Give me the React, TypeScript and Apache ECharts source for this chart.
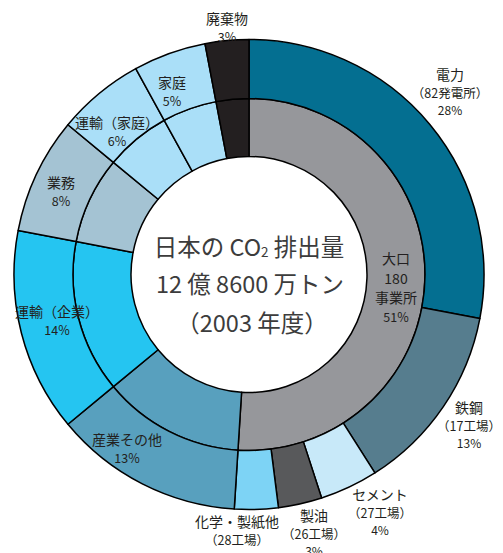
import React, { useEffect, useRef } from "react";
import * as echarts from "echarts";

// ---- data ----
const outerNames = ["電力", "鉄鋼", "セメント", "製油", "化学・製紙他", "産業その他", "運輸（企業）", "業務", "運輸（家庭）", "家庭", "廃棄物"];
const outerSubs = ["（82発電所）", "（17工場）", "（27工場）", "（26工場）", "（28工場）", "", "", "", "", "", ""];
const outerValues = [28, 13, 4, 3, 3, 13, 14, 8, 6, 5, 3];
const outerColors = ["#046F91", "#567D8E", "#C8E9F9", "#58595B", "#7DD3F5", "#58A0BE", "#25C5F1", "#A4C3D3", "#AADFF8", "#AADFF8", "#231F20"];

const innerNames = ["大口", "産業その他", "運輸（企業）", "業務", "運輸（家庭）", "家庭", "廃棄物"];
const innerValues = [51, 13, 14, 8, 6, 5, 3];
const innerColors = ["#96979B", "#58A0BE", "#25C5F1", "#A4C3D3", "#AADFF8", "#AADFF8", "#231F20"];
const innerLabelLines = ["大口", "180", "事業所"];

const centerLines = ["12 億 8600 万トン", "（2003 年度）"];

// label anchor (center x, first line center y) for each outer item
const outerLabelPos: [number, number][] = [
  [450, 74], [469, 407], [380, 494], [314, 515], [237, 521],
  [127, 439], [57, 311], [61, 182], [117, 122], [172, 82], [227, 18],
];
const innerLabelPos: [number, number] = [396, 258];

const FONT = '"Noto Sans CJK JP", "Noto Sans", sans-serif';
const INK = "#231F20";
const CENTER_INK = "#3C3C3C";

export default function App() {
  const ref = useRef<HTMLDivElement>(null);
  useEffect(() => {
    if (!ref.current) return;
    const chart = echarts.init(ref.current, null, { renderer: "svg" });
    const cx = 249, cy = 274.5;

    const texts: any[] = [];
    const addText = (t: string, x: number, y: number, size: number, color = INK) => {
      texts.push({
        type: "text",
        x, y,
        silent: true,
        z: 100,
        style: { text: t, fontSize: size, fontFamily: FONT, fill: color, align: "center", verticalAlign: "middle" },
      });
    };

    outerNames.forEach((n, i) => {
      const [x, y] = outerLabelPos[i];
      addText(n, x, y, 14);
      let yy = y;
      if (outerSubs[i]) {
        yy += 18.2;
        addText(outerSubs[i], x, yy, 12.5);
        yy += 17;
        addText(outerValues[i] + "%", x, yy, 12);
      } else {
        yy += 18;
        addText(outerValues[i] + "%", x, yy, 12.5);
      }
    });
    innerLabelLines.forEach((l, k) => addText(l, innerLabelPos[0], innerLabelPos[1] + k * 19.5, 14));
    addText(innerValues[0] + "%", innerLabelPos[0], innerLabelPos[1] + 3 * 19.5, 12.5);

    // center title
    texts.push({
      type: "text",
      x: 249, y: 244,
      silent: true,
      z: 100,
      style: {
        text: "{a|日本の CO}{s|2}{a| 排出量}",
        align: "center", verticalAlign: "middle",
        rich: {
          a: { fontSize: 23.5, fontFamily: FONT, fill: CENTER_INK, verticalAlign: "bottom", lineHeight: 28 },
          s: { fontSize: 13.5, fontFamily: FONT, fill: CENTER_INK, verticalAlign: "bottom", lineHeight: 24 },
        },
      },
    });
    addText(centerLines[0], 250, 283, 23.5, CENTER_INK);
    addText(centerLines[1], 252, 321.5, 23.5, CENTER_INK);

    chart.setOption({
      animation: false,
      backgroundColor: "#ffffff",
      series: [
        {
          type: "pie",
          center: [cx, cy],
          radius: [118, 176],
          startAngle: 90,
          clockwise: true,
          label: { show: false },
          labelLine: { show: false },
          silent: true,
          itemStyle: { borderColor: "#000", borderWidth: 1.5 },
          data: innerNames.map((n, i) => ({ name: n, value: innerValues[i], itemStyle: { color: innerColors[i] } })),
        },
        {
          type: "pie",
          center: [cx, cy],
          radius: [176, 235],
          startAngle: 90,
          clockwise: true,
          label: { show: false },
          labelLine: { show: false },
          silent: true,
          itemStyle: { borderColor: "#000", borderWidth: 1.5 },
          data: outerNames.map((n, i) => ({ name: n, value: outerValues[i], itemStyle: { color: outerColors[i] } })),
        },
      ],
      graphic: texts,
    });
    return () => chart.dispose();
  }, []);
  return (
    <div
      ref={ref}
      style={{ position: "fixed", left: 0, top: 0, width: 503, height: 553, background: "#fff" }}
    />
  );
}
